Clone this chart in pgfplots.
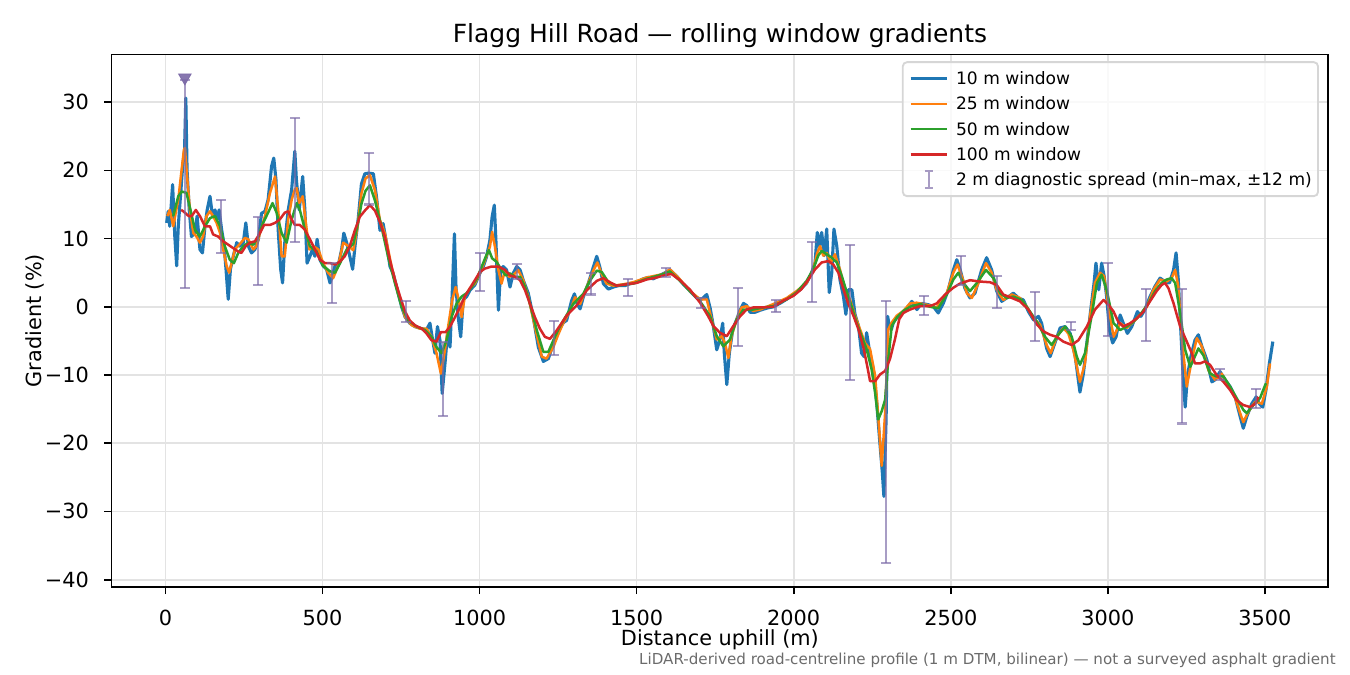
\documentclass[border=0pt]{standalone}
\usepackage{fontspec}
\setmainfont{DejaVu Sans}
\usepackage{pgfplots}
\usepackage{pgfplotstable}
\pgfplotsset{compat=1.18}

\definecolor{cA}{HTML}{1F77B4}
\definecolor{cB}{HTML}{FF7F0E}
\definecolor{cC}{HTML}{2CA02C}
\definecolor{cD}{HTML}{D62728}
\definecolor{spc}{HTML}{7A68A6}
\definecolor{gridc}{HTML}{E3E3E3}
\definecolor{footc}{HTML}{6B6B6B}

% 10 m window
\pgfplotstableread{
x y
4 12.3
9 14.0
14 11.8
23 17.9
30 10.3
36 6.0
41 11.8
48 16.2
55 20.6
61 23.0
65 30.6
69 20.0
76 14.2
83 10.3
94 10.8
101 13.3
110 8.4
118 7.9
126 11.8
133 14.2
142 16.2
150 13.3
158 14.2
165 12.8
171 14.2
179 11.3
186 9.4
193 5.5
200 1.1
207 5.5
216 7.4
227 9.4
237 8.9
248 9.4
256 12.3
264 8.9
274 7.9
285 8.4
296 9.9
306 13.7
317 14.0
327 15.7
338 20.6
345 21.8
352 18.6
359 11.3
367 5.5
373 3.5
380 9.4
391 14.2
402 17.2
412 22.8
417 18.6
426 14.2
437 19.1
444 14.2
451 6.4
460 7.4
468 8.4
476 7.4
483 9.9
492 6.9
502 6.0
513 5.5
524 3.5
531 4.5
540 6.0
550 6.0
561 8.4
568 10.8
577 9.4
587 7.4
596 5.5
605 9.5
614 13.0
624 18.0
635 19.5
646 19.6
662 19.5
672 16.1
683 11.2
693 12.2
704 9.3
715 5.9
725 4.9
736 2.9
752 0.0
763 -1.5
778 -2.4
794 -2.9
816 -3.2
831 -3.4
842 -2.4
849 -4.4
858 -6.8
866 -2.9
874 -4.9
881 -12.7
890 -8.3
898 -3.9
906 -5.9
913 2.0
920 10.7
925 2.9
932 -1.5
940 -4.4
948 1.0
959 1.5
969 2.4
985 3.2
1001 4.9
1012 5.9
1022 7.3
1033 9.8
1040 13.2
1047 14.9
1052 9.8
1060 -0.5
1067 5.4
1075 5.9
1086 5.4
1097 2.9
1107 4.9
1118 5.9
1129 5.4
1139 3.9
1155 2.0
1171 -1.5
1187 -5.9
1203 -8.0
1219 -7.6
1235 -5.4
1251 -3.5
1267 -2.3
1277 -2.0
1293 0.9
1302 1.9
1311 0.4
1320 -0.3
1330 1.4
1346 3.4
1362 5.8
1373 7.4
1383 5.8
1394 3.4
1410 2.6
1426 2.9
1442 3.1
1463 3.1
1479 3.4
1500 3.6
1521 4.1
1537 4.3
1553 4.1
1574 4.6
1595 5.1
1606 5.4
1627 4.5
1649 3.3
1670 2.3
1691 1.3
1707 1.1
1723 1.8
1734 -0.2
1744 -2.8
1755 -6.3
1765 -4.8
1774 -2.4
1779 -6.8
1787 -11.4
1795 -6.8
1806 -3.3
1818 -1.9
1829 -0.5
1840 0.5
1850 0.2
1861 -0.8
1877 -0.8
1893 -0.5
1914 -0.2
1935 0.0
1956 0.5
1977 1.1
1999 1.8
2020 2.5
2041 3.5
2057 5.0
2068 6.5
2075 10.9
2082 8.9
2089 10.9
2097 7.5
2105 11.4
2113 2.1
2121 5.0
2128 11.4
2137 8.9
2147 4.0
2158 1.6
2166 -1.1
2174 2.5
2185 2.5
2195 -1.1
2206 -2.8
2216 -6.8
2224 -7.3
2232 -3.8
2243 -7.0
2253 -9.0
2264 -14.0
2275 -20.4
2282 -24.3
2287 -27.8
2294 -16.5
2299 -1.4
2304 -2.8
2311 -3.3
2317 -2.3
2328 -1.6
2344 -0.9
2360 -0.2
2376 0.8
2392 -0.4
2407 0.5
2429 0.3
2445 0.0
2460 -0.9
2476 0.5
2492 2.5
2508 5.4
2519 6.9
2530 5.4
2545 2.7
2561 1.3
2577 2.0
2598 5.4
2614 7.2
2630 5.4
2646 2.3
2662 0.8
2678 1.3
2699 2.0
2715 1.3
2731 1.0
2747 -0.7
2763 -1.9
2779 -1.4
2789 -2.4
2805 -6.1
2816 -7.3
2829 -5.6
2848 -3.1
2864 -2.9
2880 -3.9
2896 -7.3
2911 -12.5
2922 -9.8
2933 -5.3
2945 -0.6
2956 3.5
2962 6.4
2971 2.5
2980 6.4
2988 4.5
2996 1.5
3005 -3.4
3015 -5.3
3026 -4.4
3039 -1.2
3049 -2.4
3062 -3.9
3076 -2.9
3094 -0.7
3105 -1.4
3118 -0.4
3134 1.5
3150 3.0
3166 4.2
3182 3.7
3196 3.5
3209 5.4
3217 7.9
3224 4.0
3232 -3.4
3240 -10.7
3246 -14.7
3253 -10.2
3264 -7.3
3277 -4.9
3288 -4.1
3299 -5.8
3315 -7.8
3331 -11.0
3341 -10.7
3357 -9.5
3373 -10.7
3389 -11.7
3405 -13.2
3421 -16.1
3431 -17.8
3442 -16.1
3458 -14.2
3472 -13.2
3482 -14.2
3493 -14.7
3503 -12.2
3514 -8.3
3525 -5.1
}\tblue

% 25 m window
\pgfplotstableread{
x y
6 13.3
14 14.2
25 11.8
33 13.8
41 15.7
48 18.6
59 23.0
62 23.3
70 18.6
78 14.2
89 10.8
99 10.3
110 9.4
120 10.3
131 13.3
142 14.0
152 13.3
163 12.3
174 10.8
184 8.4
195 6.0
203 5.0
211 6.4
221 8.4
237 9.2
253 10.1
264 9.9
280 8.4
290 8.9
301 10.8
317 13.3
333 16.7
349 19.1
359 14.2
370 7.4
380 7.4
391 12.8
402 15.7
412 17.2
418 17.4
426 15.2
437 16.2
447 12.3
458 8.4
471 8.9
487 8.4
502 6.4
518 5.0
534 4.2
550 6.0
566 9.4
582 8.9
598 8.3
611 11.5
624 16.6
637 18.8
651 19.3
667 17.1
683 12.7
699 10.7
720 5.9
741 2.0
763 -1.5
784 -2.7
810 -3.2
831 -3.2
847 -4.4
863 -6.8
877 -9.8
890 -6.3
900 -2.9
913 1.0
924 2.9
934 1.0
943 -1.5
953 1.5
969 2.7
985 3.4
1001 4.9
1017 6.8
1033 8.8
1040 11.0
1049 8.8
1060 5.4
1070 3.4
1081 5.4
1094 4.4
1107 4.6
1123 5.4
1139 3.9
1155 1.5
1176 -2.9
1198 -7.3
1213 -7.6
1235 -5.9
1251 -4.0
1267 -2.3
1288 -0.6
1304 1.4
1320 0.4
1341 2.9
1362 5.3
1375 6.5
1389 4.8
1404 3.4
1426 3.1
1458 3.3
1489 3.6
1532 4.3
1585 4.8
1606 5.5
1638 4.0
1670 2.3
1702 1.1
1723 1.1
1739 -1.9
1755 -4.8
1771 -4.3
1781 -5.3
1792 -7.5
1802 -4.3
1818 -1.9
1834 -0.1
1850 0.1
1871 -0.6
1893 -0.4
1935 0.4
1978 1.3
2009 2.3
2041 3.5
2062 5.5
2075 7.9
2084 8.9
2094 7.5
2105 7.9
2118 6.5
2131 7.7
2147 5.5
2163 2.6
2179 1.1
2195 -1.3
2211 -3.3
2227 -5.3
2243 -6.2
2259 -10.1
2269 -16.0
2280 -23.3
2291 -15.5
2301 -3.3
2312 -2.3
2328 -1.3
2349 -0.6
2370 0.5
2391 0.6
2423 0.3
2455 -0.1
2487 2.0
2508 5.0
2521 6.2
2535 4.5
2551 2.0
2567 1.3
2588 3.5
2612 6.4
2630 5.0
2646 2.5
2667 1.0
2694 1.8
2720 1.3
2742 0.0
2763 -1.7
2784 -2.6
2805 -5.6
2818 -6.8
2837 -4.4
2858 -3.1
2874 -3.9
2890 -6.3
2911 -11.0
2927 -8.3
2943 -1.4
2959 3.5
2975 5.0
2988 4.5
3002 0.0
3018 -4.4
3039 -2.4
3060 -3.1
3081 -2.2
3102 -1.2
3124 0.0
3145 2.5
3166 4.0
3187 3.7
3203 4.2
3214 5.4
3224 3.0
3235 -4.4
3251 -11.7
3267 -7.8
3283 -4.6
3299 -5.8
3320 -9.3
3341 -10.7
3362 -9.8
3384 -11.5
3405 -13.4
3421 -15.6
3431 -16.9
3447 -15.4
3469 -13.9
3490 -14.2
3506 -11.7
3516 -8.3
}\torange

% 50 m window
\pgfplotstableread{
x y
25 13.3
41 16.2
52 16.9
67 16.7
80 14.2
94 11.3
110 10.3
126 11.8
142 13.0
158 13.3
174 11.8
189 8.9
205 6.9
218 6.4
232 7.9
248 8.9
264 9.4
280 9.1
296 10.3
311 12.3
327 13.8
341 15.2
354 13.8
370 10.8
386 9.4
402 12.8
418 15.2
428 14.2
444 11.3
460 8.9
481 8.1
502 6.0
524 5.2
540 5.0
556 6.4
577 8.4
598 9.2
611 11.8
624 15.1
637 17.0
651 17.8
667 15.6
688 11.7
709 7.3
731 3.4
752 0.0
773 -2.0
800 -2.9
826 -3.4
847 -4.4
863 -5.9
879 -6.8
895 -4.9
911 -1.5
927 0.5
943 1.5
959 2.0
975 2.9
991 4.1
1007 5.9
1022 7.6
1030 8.3
1040 7.1
1054 6.6
1070 5.4
1083 4.6
1097 4.9
1113 4.4
1129 4.4
1145 2.9
1160 0.5
1182 -3.4
1203 -6.6
1219 -6.6
1235 -4.9
1251 -3.3
1267 -2.0
1298 0.4
1330 1.9
1351 3.8
1373 5.3
1389 5.1
1410 3.6
1436 3.1
1489 3.4
1532 4.1
1585 4.8
1606 5.2
1638 3.8
1670 2.3
1702 0.8
1734 -1.4
1755 -4.3
1776 -5.8
1797 -4.8
1818 -1.9
1840 -0.4
1871 -0.4
1903 -0.1
1935 0.1
1978 1.1
2009 2.1
2041 3.8
2062 5.5
2078 7.5
2089 8.2
2105 7.7
2121 7.2
2137 6.5
2153 4.5
2169 2.1
2184 0.1
2200 -2.3
2216 -4.3
2232 -6.2
2248 -9.2
2259 -12.6
2269 -16.5
2280 -15.3
2291 -13.6
2301 -7.7
2312 -2.8
2328 -1.6
2349 -0.6
2370 0.0
2402 0.4
2434 0.0
2460 -0.2
2487 1.8
2508 4.0
2524 5.0
2540 3.5
2561 2.3
2583 3.5
2612 5.4
2636 4.2
2657 2.0
2678 1.3
2699 1.5
2726 1.0
2752 -0.7
2774 -2.2
2800 -4.4
2821 -5.6
2842 -4.1
2864 -2.9
2885 -4.4
2901 -7.3
2911 -8.5
2927 -6.8
2949 -1.1
2965 3.5
2980 4.7
2996 2.5
3018 -2.4
3039 -3.4
3060 -2.9
3081 -2.2
3102 -1.2
3129 0.5
3150 2.3
3171 3.5
3187 4.0
3203 4.2
3214 3.5
3230 -0.9
3246 -6.3
3262 -8.8
3272 -7.8
3288 -6.1
3304 -7.1
3325 -9.8
3346 -10.2
3368 -10.2
3389 -11.7
3410 -13.4
3431 -15.1
3442 -15.6
3463 -14.4
3484 -13.4
3503 -11.2
}\tgreen

% 100 m window
\pgfplotstableread{
x y
50 14.2
57 14.0
74 13.3
84 13.3
97 14.2
110 13.3
126 11.8
142 11.8
152 10.6
168 10.3
184 9.6
200 9.1
216 8.6
232 8.1
242 7.9
256 8.9
269 9.4
285 9.6
301 10.8
314 12.0
333 12.0
349 12.3
364 12.8
380 13.8
391 14.0
402 12.8
412 12.0
428 12.0
444 11.3
460 9.9
476 8.4
492 6.9
508 6.4
524 6.4
540 6.2
555 6.6
571 7.4
587 8.9
603 11.2
619 13.2
635 14.1
651 14.9
667 14.1
683 12.4
699 10.2
715 6.8
731 3.9
747 1.5
763 -0.7
778 -2.0
794 -2.7
816 -3.2
831 -3.9
847 -4.9
863 -5.1
877 -3.7
892 -3.7
906 -2.9
922 -1.5
938 0.0
953 1.5
969 2.7
985 3.9
1001 5.1
1017 5.6
1038 5.9
1060 5.9
1081 5.4
1097 4.6
1113 4.4
1129 3.9
1145 2.4
1160 0.5
1176 -1.5
1192 -3.2
1208 -4.4
1224 -4.7
1245 -3.5
1277 -1.3
1309 0.2
1341 2.4
1373 3.8
1394 4.2
1415 3.6
1436 3.1
1468 3.3
1500 3.5
1532 4.0
1564 4.3
1595 4.7
1611 4.8
1638 3.9
1670 2.5
1702 0.6
1728 -1.4
1744 -2.8
1765 -3.8
1787 -4.3
1808 -2.8
1829 -1.4
1850 -0.4
1871 -0.1
1893 -0.1
1935 0.0
1967 0.9
1999 1.6
2025 2.6
2047 4.0
2068 5.5
2089 6.5
2110 6.7
2126 6.2
2142 5.0
2158 2.6
2174 0.4
2190 -1.3
2206 -3.3
2222 -6.0
2234 -8.7
2243 -10.9
2259 -10.9
2275 -9.9
2291 -9.4
2306 -7.7
2322 -4.8
2336 -1.8
2349 -0.9
2370 -0.4
2402 0.1
2434 0.1
2455 0.5
2482 1.8
2508 2.8
2529 3.4
2561 3.9
2593 3.7
2625 3.6
2646 3.2
2667 1.8
2694 1.3
2720 0.8
2747 -0.4
2774 -2.6
2795 -3.6
2816 -4.1
2837 -4.4
2858 -5.1
2885 -5.6
2906 -4.9
2933 -2.9
2959 -0.4
2986 1.0
3002 0.3
3018 -0.7
3033 -2.2
3049 -2.9
3071 -2.4
3092 -1.7
3113 -0.7
3134 0.8
3155 2.3
3171 3.2
3182 3.5
3193 2.7
3209 0.5
3230 -2.9
3251 -5.1
3267 -6.8
3277 -8.3
3293 -8.3
3309 -8.0
3325 -8.5
3346 -10.0
3368 -11.0
3389 -12.2
3410 -13.7
3431 -14.4
3453 -14.7
3469 -14.2
3479 -13.2
}\tred

% 2 m diagnostic spread: min and max at each station, nan breaks the line
\pgfplotstableread{
x y
62 2.7
62 33.3
nan nan
177 7.9
177 15.6
nan nan
295 3.2
295 13.2
nan nan
414 9.5
414 27.7
nan nan
531 0.6
531 6.4
nan nan
649 15.0
649 22.5
nan nan
767 -2.2
767 0.8
nan nan
884 -16.0
884 -5.2
nan nan
1001 2.3
1001 7.9
nan nan
1120 4.1
1120 6.25
nan nan
1236 -7.0
1236 -2.1
nan nan
1355 1.8
1355 5.0
nan nan
1473 1.6
1473 4.1
nan nan
1592 4.4
1592 5.7
nan nan
1705 -0.2
1705 1.3
nan nan
1823 -5.7
1823 2.8
nan nan
1942 -0.7
1942 1.0
nan nan
2059 0.7
2059 9.5
nan nan
2178 -10.7
2178 9.0
nan nan
2295 -37.5
2295 0.9
nan nan
2414 -1.2
2414 1.6
nan nan
2531 3.2
2531 7.5
nan nan
2648 -0.15
2648 4.5
nan nan
2767 -5.0
2767 2.2
nan nan
2883 -3.4
2883 -2.2
nan nan
3000 -4.3
3000 6.4
nan nan
3120 -5.0
3120 2.6
nan nan
3237 -17.1
3237 2.6
nan nan
3356 -10.7
3356 -9.1
nan nan
3470 -14.8
3470 -12.0
}\tspread

\begin{document}
\begin{tikzpicture}
\begin{axis}[
  scale only axis,
  width=583.9pt, height=255.6pt,
  xmin=-171, xmax=3701, ymin=-41.05, ymax=37.0,
  xtick={0,500,...,3500},
  xticklabels={0,500,1000,1500,2000,2500,3000,3500},
  ytick={-40,-30,...,30},
  yticklabels={−40,−30,−20,−10,0,10,20,30},
  xtick pos=bottom, ytick pos=left,
  tick align=outside, major tick length=3.5pt,
  tick style={black, line width=0.8pt},
  axis line style={black, line width=0.8pt},
  grid=major,
  major grid style={draw=gridc, line width=0.8pt},
  tick label style={font=\fontsize{10}{12}\selectfont, inner sep=0pt},
  xticklabel style={anchor=base, yshift=-14.8pt},
  yticklabel style={anchor=base east, xshift=-7.2pt, yshift=-3.6pt},
  unbounded coords=jump,
  legend cell align=left,
  legend image code/.code={\draw[#1] (0pt,0pt) -- (17.5pt,0pt);},
  legend style={
    at={(rel axis cs:1,1)}, anchor=north east, xshift=-4.4pt, yshift=-3.3pt,
    draw=black!16, line width=0.9pt, rounded corners=2pt,
    fill=white, fill opacity=0.8, text opacity=1,
    font=\fontsize{8.2}{9.8}\selectfont,
    inner xsep=3pt, inner ysep=1.9pt,
    row sep=0pt, column sep=3.6pt,
    nodes={inner sep=0pt, text height=8.95pt, text depth=3.15pt},
  },
]
\addplot[cA, line width=1.5pt, line join=round] table[x=x, y=y] {\tblue};
\addlegendentry{10 m window}
\addplot[cB, line width=1.2pt, line join=round] table[x=x, y=y] {\torange};
\addlegendentry{25 m window}
\addplot[cC, line width=1.2pt, line join=round] table[x=x, y=y] {\tgreen};
\addlegendentry{50 m window}
\addplot[cD, line width=1.2pt, line join=round] table[x=x, y=y] {\tred};
\addlegendentry{100 m window}
\addplot[spc, draw opacity=0.65, line width=1pt,
  mark=-, mark size=2.4pt, mark options={solid, draw opacity=0.65},
  legend image code/.code={
    \draw[spc, draw opacity=0.65, line width=1pt]
      (8.75pt,-4pt) -- (8.75pt,4pt)
      (6.9pt,-4pt) -- (10.6pt,-4pt)
      (6.9pt,4pt) -- (10.6pt,4pt);}]
  table[x=x, y=y] {\tspread};
\addlegendentry{2 m diagnostic spread (min–max, ±12 m)}
\addplot[forget plot, only marks, mark=triangle*, mark size=3.5pt,
  mark options={rotate=180, fill=spc, draw=spc, opacity=0.9, line width=0.4pt}]
  coordinates {(62,33.6)};
\end{axis}
\node[anchor=base, inner sep=0pt, font=\fontsize{12}{14}\selectfont]
  at ([yshift=5.8pt]current axis.north) {Flagg Hill Road — rolling window gradients};
\node[anchor=base, inner sep=0pt, font=\fontsize{10}{12}\selectfont]
  at ([yshift=-28.3pt]current axis.south) {Distance uphill (m)};
\node[anchor=base, rotate=90, inner sep=0pt, font=\fontsize{10}{12}\selectfont]
  at ([xshift=-33.6pt]current axis.west) {Gradient (\%)};
\node[anchor=base east, inner sep=0pt, text=footc, font=\fontsize{7.25}{8.7}\selectfont]
  at ([xshift=3.8pt, yshift=-37.1pt]current axis.south east)
  {LiDAR-derived road-centreline profile (1 m DTM, bilinear) — not a surveyed asphalt gradient};
\path ([xshift=-53.6pt, yshift=-42.3pt]current axis.south west)
  rectangle ([xshift=10.5pt, yshift=26.1pt]current axis.north east);
\end{tikzpicture}
\end{document}
